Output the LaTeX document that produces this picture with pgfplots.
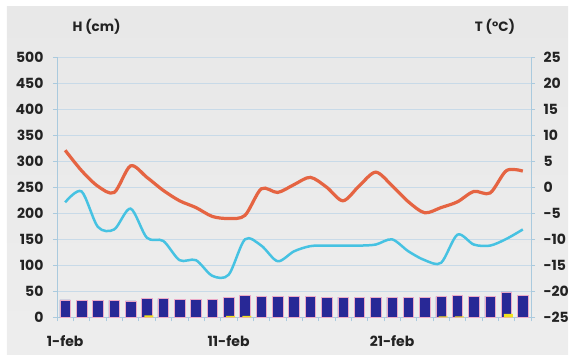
\documentclass[border=0pt]{standalone}
\usepackage{pgfplots}
\pgfplotsset{compat=1.18}
\usepackage{pgfplotstable}
\usepackage{fontspec}
\setmainfont{Poppins}
\definecolor{barblue}{RGB}{40,40,150}
\definecolor{tmaxred}{RGB}{229,100,66}
\definecolor{tmincyan}{RGB}{70,194,226}
\definecolor{gridc}{RGB}{200,218,232}
\definecolor{axc}{RGB}{170,202,222}
\definecolor{txt}{RGB}{35,35,35}
\definecolor{snowy}{RGB}{240,226,30}
\definecolor{barEdge}{RGB}{235,170,200}

\pgfplotstableread{
day H Tmax Tmin
1 34 7.1 -2.9
2 33 3.2 -0.8
3 33 0.2 -7.6
4 33 -1.0 -8.1
5 32 4.1 -4.1
6 37 1.9 -9.7
7 36 -0.6 -10.3
8 35 -2.6 -14.0
9 35 -3.9 -14.0
10 35 -5.6 -17.0
11 39 -6.0 -16.8
12 42 -5.4 -10.0
13 41 -0.3 -11.2
14 41 -1.0 -14.2
15 40 0.5 -12.3
16 40 1.9 -11.3
17 39 0.0 -11.2
18 39 -2.6 -11.2
19 39 0.3 -11.2
20 39 2.9 -11.0
21 39 0.3 -10.0
22 39 -2.8 -12.3
23 39 -4.9 -14.0
24 40 -3.9 -14.5
25 43 -2.8 -9.1
26 41 -0.8 -11.0
27 41 -1.1 -11.2
28 49 3.2 -9.9
29 43 3.1 -8.1
}\data

\pgfplotstableread{
day N
6 4
11 3
12 3
24 2
25 2
28 7
}\snow

\begin{document}
\begin{tikzpicture}[font=\fontsize{13.5}{15}\selectfont\bfseries]
\useasboundingbox (-57pt,-40.5pt) rectangle (514pt,317.5pt);
\shade[top color=black!9, middle color=white, bottom color=black!7] (-50pt,-37.5pt) rectangle (511pt,310.5pt);
\begin{axis}[
  at={(0,0)}, anchor=south west,
  scale only axis, width=474pt, height=260.5pt,
  xmin=0.5, xmax=29.5, ymin=0, ymax=500,
  axis y line*=left, axis x line*=bottom,
  axis line style={draw=axc, line width=0.6pt},
  ytick={0,50,...,500},
  ymajorgrids, grid style={draw=gridc, line width=0.7pt},
  xtick={0.5,1.5,...,29.5}, xticklabels={},
  tick style={draw=axc, line width=0.5pt},
  major tick length=4pt, tick align=outside,
  extra x ticks={1,11,21},
  extra x tick labels={1-feb,11-feb,21-feb},
  extra x tick style={major tick length=0pt, tick label style={yshift=-14pt}},
  yticklabel style={xshift=-6pt},
  ticklabel style={text=txt, font=\fontsize{14}{16}\selectfont\bfseries},
  /pgf/number format/assume math mode=true,
  clip=false,
]
\addplot[ybar, bar width=10.5pt, fill=barblue, draw=barEdge, line width=0.5pt] table[x=day, y=H] {\data};
\addplot[ybar, bar width=9pt, bar shift=2pt, fill=snowy, draw=none] table[x=day, y=N] {\snow};
\end{axis}
\begin{axis}[
  at={(0,0)}, anchor=south west,
  scale only axis, width=474pt, height=260.5pt,
  xmin=0.5, xmax=29.5, ymin=-25, ymax=25,
  axis y line*=right, axis x line=none,
  axis line style={draw=axc, line width=0.6pt},
  ytick={-25,-20,...,25},
  tick style={draw=axc, line width=0.5pt},
  major tick length=4pt, tick align=outside,
  yticklabel style={xshift=5pt},
  ticklabel style={text=txt, font=\fontsize{14}{16}\selectfont\bfseries},
  /pgf/number format/assume math mode=true,
]
\addplot[tmaxred, line width=3.2pt, smooth, no markers] table[x=day, y=Tmax] {\data};
\addplot[tmincyan, line width=2.5pt, smooth, no markers] table[x=day, y=Tmin] {\data};
\end{axis}
\node[anchor=west, text=txt] at (12pt,290.5pt) {H (cm)};
\node[text=txt] at (438pt,290.5pt) {T (°C)};
\end{tikzpicture}
\end{document}
